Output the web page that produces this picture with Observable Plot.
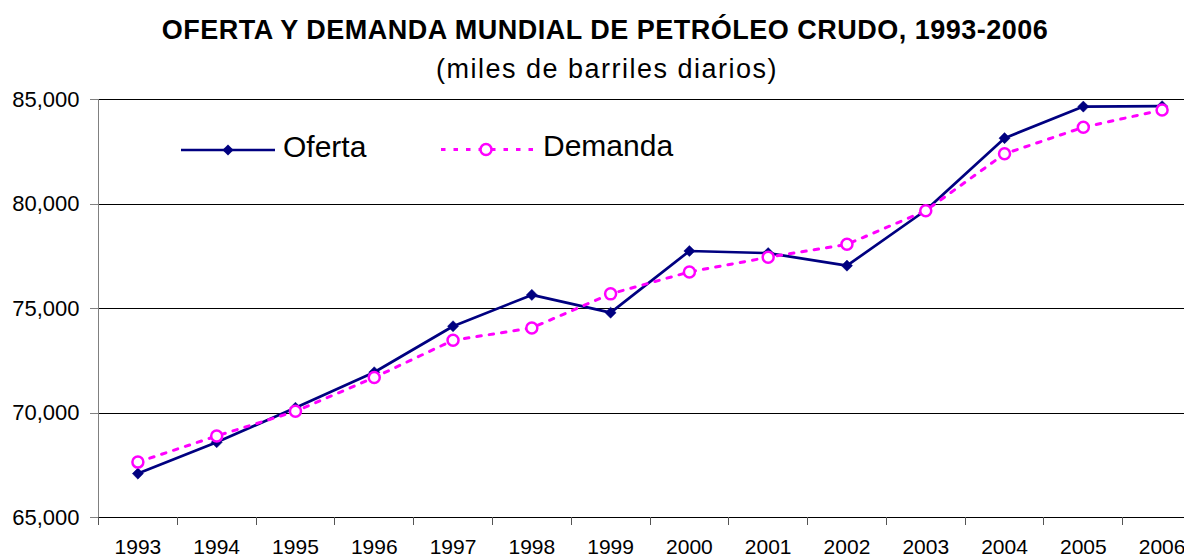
<!DOCTYPE html>
<html>
<head>
<meta charset="utf-8">
<script src="https://cdn.jsdelivr.net/npm/d3@7"></script>
<script src="https://cdn.jsdelivr.net/npm/@observablehq/plot@0.6"></script>
<style>
  html, body { margin: 0; padding: 0; background: #fff; overflow: hidden; }
  #wrap { position: relative; width: 1184px; height: 559px; overflow: hidden; background: #fff; }
  #chart { position: absolute; left: 0; top: 0; width: 1202px; }
  #chart svg { max-width: none !important; }
  #overlay { position: absolute; left: 0; top: 0; pointer-events: none; }
</style>
</head>
<body>
<div id="wrap">
  <div id="chart"></div>
  <svg id="overlay" width="1184" height="559"></svg>
</div>
<script>
// ---- Data ----
const years   = [1993, 1994, 1995, 1996, 1997, 1998, 1999, 2000, 2001, 2002, 2003, 2004, 2005, 2006];
const oferta  = [67100, 68600, 70250, 71950, 74150, 75650, 74800, 77750, 77650, 77050, 79700, 83150, 84660, 84680];
const demanda = [67650, 68900, 70080, 71700, 73480, 74070, 75700, 76750, 77450, 78070, 79680, 82400, 83670, 84500];
const yTicks  = [65000, 70000, 75000, 80000, 85000];
const title    = "OFERTA Y DEMANDA MUNDIAL DE PETRÓLEO CRUDO, 1993-2006";
const subtitle = "(miles de barriles diarios)";
const seriesNames = ["Oferta", "Demanda"];

const rows = years.map((y, i) => ({year: y, oferta: oferta[i], demanda: demanda[i]}));
const boundaries = [...years.map(y => y - 0.5), years[years.length - 1] + 0.5];

const FONT = "'Liberation Sans', Arial, Helvetica, sans-serif";
const NAVY = "#000080", MAGENTA = "#FF00FF";

const chart = Plot.plot({
  width: 1202,
  height: 559,
  marginLeft: 98,
  marginRight: 1,
  marginTop: 99,
  marginBottom: 42,
  style: {fontFamily: FONT, fontSize: "22px", color: "#000", background: "transparent", overflow: "visible", maxWidth: "none"},
  x: {type: "linear", domain: [years[0] - 0.5, years[years.length - 1] + 0.5]},
  y: {domain: [yTicks[0], yTicks[yTicks.length - 1]]},
  marks: [
    Plot.ruleY(yTicks, {stroke: "#000", strokeWidth: 1, shapeRendering: "crispEdges"}),
    Plot.ruleX([boundaries[0]], {stroke: "#808080", strokeWidth: 1, shapeRendering: "crispEdges"}),
    Plot.axisY(yTicks, {tickSize: 8, tickPadding: 11, tickFormat: d3.format(","), fontSize: 22, stroke: "#808080", label: null, shapeRendering: "crispEdges"}),
    Plot.axisX(boundaries, {tickSize: 8, tickFormat: () => "", stroke: "#555", label: null, shapeRendering: "crispEdges"}),
    Plot.axisX(years, {tickSize: 0, tickPadding: 22, tickFormat: d => String(d), fontSize: 21, label: null}),
    Plot.line(rows, {x: "year", y: "oferta", stroke: NAVY, strokeWidth: 2.7}),
    Plot.dot(rows, {x: "year", y: "oferta", symbol: "diamond2", r: 5, fill: NAVY, stroke: NAVY, strokeWidth: 0.5}),
    Plot.line(rows, {x: "year", y: "demanda", stroke: MAGENTA, strokeWidth: 3, strokeDasharray: "4.5,8"}),
    Plot.dot(rows, {x: "year", y: "demanda", r: 5.5, fill: "white", stroke: MAGENTA, strokeWidth: 2.5})
  ]
});
document.getElementById("chart").appendChild(chart);

// ---- Title, subtitle and legend overlay ----
const ov = d3.select("#overlay");
ov.append("text").attr("x", 605).attr("y", 39).attr("text-anchor", "middle")
  .attr("font-family", FONT).attr("font-weight", "bold").attr("font-size", 27)
  .attr("letter-spacing", "0.5px").attr("fill", "#000").text(title);
ov.append("text").attr("x", 607).attr("y", 78).attr("text-anchor", "middle")
  .attr("font-family", FONT).attr("font-size", 27)
  .attr("letter-spacing", "1.5px").attr("fill", "#000").text(subtitle);

// Legend: Oferta
const lg = ov.append("g");
lg.append("line").attr("x1", 181).attr("x2", 275).attr("y1", 150).attr("y2", 150)
  .attr("stroke", NAVY).attr("stroke-width", 2.7);
lg.append("path").attr("transform", "translate(228,150)")
  .attr("d", d3.symbol(d3.symbolDiamond2, 5 * 5 * Math.PI)()).attr("fill", NAVY);
lg.append("text").attr("x", 283).attr("y", 157).attr("font-family", FONT).attr("font-size", 30)
  .attr("fill", "#000").text(seriesNames[0]);
// Legend: Demanda
lg.append("line").attr("x1", 441).attr("x2", 533).attr("y1", 149.5).attr("y2", 149.5)
  .attr("stroke", MAGENTA).attr("stroke-width", 3).attr("stroke-dasharray", "4.5,8");
lg.append("circle").attr("cx", 486).attr("cy", 149.5).attr("r", 5.5)
  .attr("fill", "white").attr("stroke", MAGENTA).attr("stroke-width", 2.5);
lg.append("text").attr("x", 543).attr("y", 156).attr("font-family", FONT).attr("font-size", 30)
  .attr("fill", "#000").text(seriesNames[1]);
</script>
</body>
</html>
